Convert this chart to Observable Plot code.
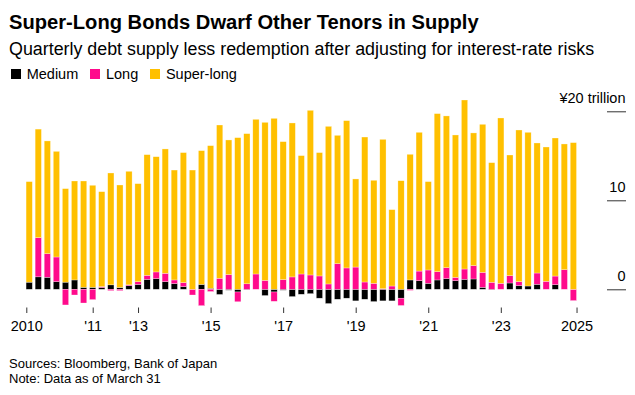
<!DOCTYPE html>
<html><head><meta charset="utf-8">
<script src="https://cdn.jsdelivr.net/npm/d3@7"></script>
<script src="https://cdn.jsdelivr.net/npm/@observablehq/plot@0.6"></script>
<style>
body{margin:0;background:#fff;font-family:"Liberation Sans",Arial,sans-serif;color:#000;}
#wrap{position:relative;width:635px;height:395px;overflow:hidden;}
.abs{position:absolute;left:9px;white-space:nowrap;}
#title{top:10.3px;font-size:20.15px;line-height:24px;font-weight:bold;}
#sub{top:38.8px;font-size:17.85px;line-height:20px;}
#legend{top:66px;left:11px;font-size:14.5px;line-height:16px;}
#legend .item{display:inline-block;margin-right:12px;}
#legend .sw{display:inline-block;width:10px;height:10px;margin-right:5.7px;}
#chart{position:absolute;top:90px;left:0;}
#foot{top:357.3px;font-size:13px;line-height:14.3px;}
</style></head>
<body><div id="wrap">
<div id="title" class="abs">Super-Long Bonds Dwarf Other Tenors in Supply</div>
<div id="sub" class="abs">Quarterly debt supply less redemption after adjusting for interest-rate risks</div>
<div id="legend" class="abs"></div>
<div id="chart"></div>
<div id="foot" class="abs">Sources: Bloomberg, Bank of Japan<br>Note: Data as of March 31</div>
</div>
<script>
// Tenor series (¥ trillion), quarterly from 2010 Q1 to 2025 Q1
const tenors = ["Medium", "Long", "Super-long"];
const colors = ["#000000", "#ff0a8c", "#ffc000"];
const medium = [0.8,1.4,1.35,0.86,0.8,1.05,0.22,0.22,0.2,0.5,
  0.2,0.4,0.55,1.12,1.2,0.86,0.64,0.3,0,0.55,
  0.1,-0.58,-0.1,-0.3,-0.05,0,-0.7,-0.3,-0.1,-0.82,
  -0.56,-0.49,-1.0,-1.6,-1.12,-1.0,-1.3,-1.12,-1.38,-1.3,
  -1.3,-1.0,1.05,0.97,0.67,1.05,1.2,0.97,1.12,1.16,
  0.22,-0.05,0,0.71,0.41,0.37,0.56,0,0.52,0,0];
const long = [0,4.4,2.65,2.77,-1.76,-0.64,-1.54,-1.16,0.1,-0.15,
  -0.15,0.1,0.3,0.45,0.75,0.94,0.41,0.45,-0.64,-1.84,
  -0.25,1.24,1.65,-1.1,0.62,1.72,1.0,-1.05,1.09,1.39,
  1.72,1.61,1.5,0.6,2.88,2.4,2.5,0.82,0.67,0.07,
  0.37,-0.82,-0.12,1.08,1.5,0.93,1.23,0.37,1.16,1.5,
  1.68,0.79,0.67,0.82,0.45,0,1.27,0.9,0.97,2.2,-1.27];
const superLong = [11.3,12.2,12.67,11.87,10.51,11.12,11.95,11.47,10.67,12.57,
  11.52,12.76,11.02,13.56,12.95,13.97,12.35,14.61,13.4,15.03,
  16.04,17.22,15.13,17.04,16.87,17.38,17.76,19.21,15.5,17.3,
  13.3,18.5,13.86,17.71,14.42,16.55,9.9,16.29,11.58,16.78,
  8.58,12.2,14.12,15.59,9.93,17.76,17.05,16.0,18.99,14.91,
  16.64,13.44,18.58,13.56,17.04,17.27,14.61,15.09,15.51,14.13,16.48];
const quarters = medium.map((_, i) => `${2010 + Math.floor(i / 4)} Q${i % 4 + 1}`);
// x tick labels and their positions on the quarter axis
const xTickLabels = ["2010", "'11", "'13", "'15", "'17", "'19", "'21", "'23", "2025"];
const xTickPos = [0.18, 7.5, 12.5, 20.5, 28.5, 36.5, 44.5, 52.5, 60.85];
const yTicks = [0, 10, 20];
const yTickLabels = ["0", "10", "¥20 trillion"];

const series = [medium, long, superLong];
const data = [];
quarters.forEach((q, i) => {
  tenors.forEach((t, k) => data.push({i, quarter: q, tenor: t, value: series[k][i]}));
});

// legend
const lg = document.getElementById("legend");
tenors.forEach((t, k) => {
  const it = document.createElement("span");
  it.className = "item";
  const sw = document.createElement("span");
  sw.className = "sw";
  sw.style.background = colors[k];
  it.appendChild(sw);
  it.appendChild(document.createTextNode(t));
  lg.appendChild(it);
});

const xLab = new Map(xTickPos.map((p, i) => [p, xTickLabels[i]]));
const yLab = new Map(yTicks.map((p, i) => [p, yTickLabels[i]]));

const chart = Plot.plot({
  width: 635,
  height: 245.5,
  marginLeft: 24.67,
  marginRight: 57.1,
  marginTop: 3.5,
  marginBottom: 28,
  x: {domain: [0, 61]},
  y: {domain: [-2.045, 22]},
  color: {domain: tenors, range: colors},
  style: {fontFamily: "'Liberation Sans', Arial, sans-serif", fontSize: "14.5px", background: "transparent", color: "#000", overflow: "visible"},
  marks: [
    Plot.rectY(data, {x: "i", interval: 1, y: "value", fill: "tenor", insetLeft: 1.4, insetRight: 1.4, stroke: "white", strokeWidth: 0.5, strokeOpacity: 0.6}),
    Plot.axisX({ticks: xTickPos, tickFormat: d => xLab.get(d), tickSize: 5.5, tickPadding: 7, label: null, stroke: "#333"}),
    Plot.axisY({anchor: "right", ticks: yTicks, tickSize: 19, dx: 28.1, fill: "none", stroke: "#333", label: null}),
    Plot.axisY({anchor: "right", ticks: yTicks, tickSize: 0, tickPadding: 0, textAnchor: "end", dx: 47.1, dy: -13, tickFormat: d => yLab.get(d), label: null})
  ]
});
document.getElementById("chart").appendChild(chart);
</script>
</body></html>
